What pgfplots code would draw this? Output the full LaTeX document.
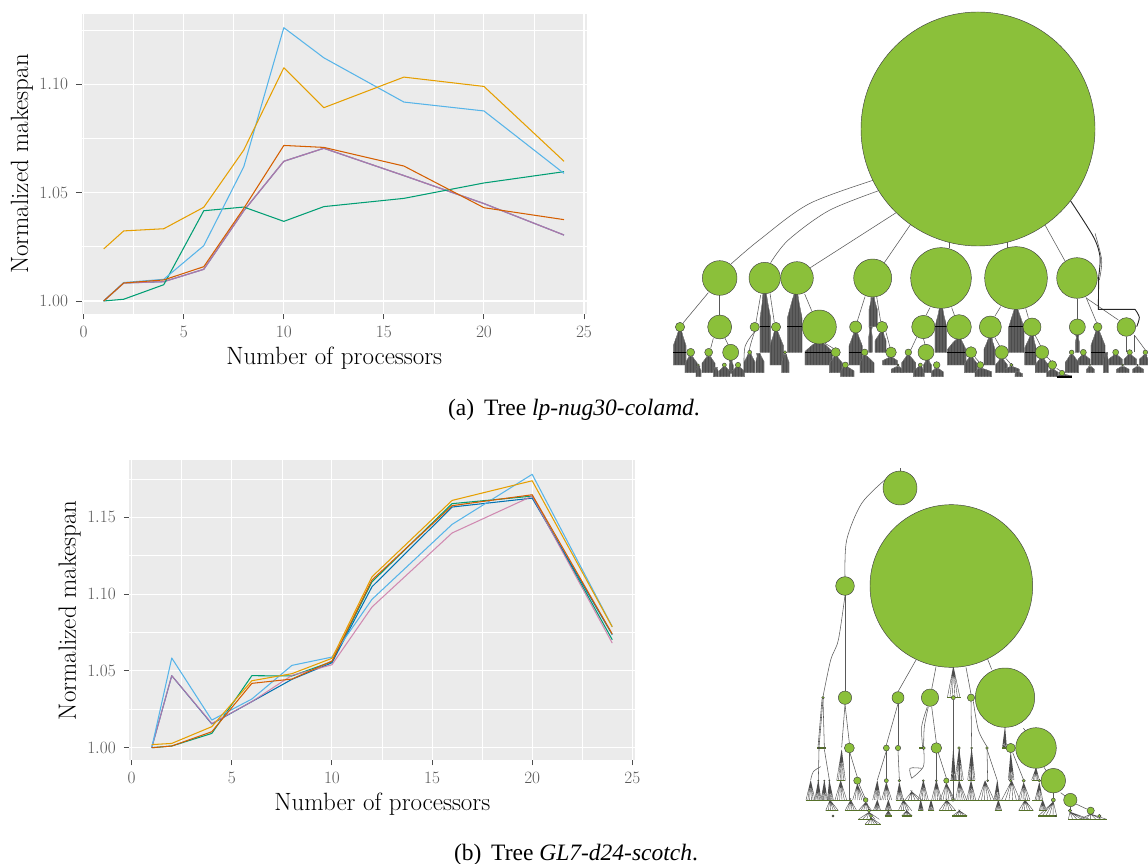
\documentclass[border=0pt]{standalone}
\usepackage{fontspec}
\usepackage{pgfplots}
\usetikzlibrary{patterns}
\pgfplotsset{compat=1.18}
\newfontfamily\capfont{Liberation Serif}
\definecolor{cY}{HTML}{E69F00}
\definecolor{cS}{HTML}{56B4E9}
\definecolor{cG}{HTML}{009E73}
\definecolor{cB}{HTML}{0072B2}
\definecolor{cV}{HTML}{D55E00}
\definecolor{cP}{HTML}{CC79A7}
\definecolor{panel}{HTML}{EBEBEB}
\definecolor{leafgreen}{HTML}{8BC03A}
\definecolor{fancol}{HTML}{5E5E5E}
\definecolor{rowcol}{HTML}{56702A}
\pgfplotsset{
  ggp/.style={
    scale only axis,
    axis background/.style={fill=panel},
    axis line style={draw=none},
    tick align=outside,
    major tick length=5.5pt,
    minor tick length=0pt,
    tick style={color=black!70,line width=.9pt},
    xtick pos=bottom, ytick pos=left,
    grid=both,
    major grid style={white,line width=1.1pt},
    minor grid style={white,line width=.6pt},
    xtick={0,5,10,15,20,25},
    minor xtick={2.5,7.5,12.5,17.5,22.5},
    tick label style={font=\fontsize{18}{20}\selectfont,text=black!65},
    xticklabel style={yshift=-3pt},
    label style={font=\fontsize{25}{28}\selectfont},
    xlabel style={at={(axis description cs:0.5,-0.146)},anchor=center},
    ylabel style={at={(axis description cs:-0.118,0.5)},anchor=center},
    yticklabel style={xshift=-4.5pt,/pgf/number format/fixed,/pgf/number format/fixed zerofill,/pgf/number format/precision=2},
    scaled y ticks=false,
  },
  ser/.style={#1,line width=1.05pt,mark=none,line join=round},
  tree/.style={hide axis,scale only axis,clip=false,y dir=reverse},
}
% tree helpers, all coordinates
\newcommand\cn[3]{\addplot[only marks,mark=*,mark size={#3/3},mark options={fill=leafgreen,draw=black!75,line width=.45pt}] coordinates {(#1,#2)};}
\newcommand\ed[1]{\addplot[draw=black!65,line width=.55pt,mark=none] coordinates {#1};}
\newcommand\eds[1]{\addplot[draw=black!65,line width=.55pt,mark=none,smooth] coordinates {#1};}
\newcommand\edb[1]{\addplot[draw=black!85,line width=.9pt,mark=none,smooth] coordinates {#1};}
\newcommand\fan[5]{%
  \pgfmathsetmacro\sy{#2+0.42*(#5-#2)}%
  \pgfmathsetmacro\my{#2+0.15*(#5-#2)}%
  \pgfmathsetmacro\la{#1-5}\pgfmathsetmacro\ra{#1+5}%
  \pgfmathsetmacro\lm{#3+0.5*(#1-#3)}\pgfmathsetmacro\rm{#4-0.5*(#4-#1)}%
  \edef\tmp{\noexpand\addplot[fill=fancol,draw=black!55,line width=.25pt,mark=none,postaction={pattern=vertical lines,pattern color=black!70}] coordinates {(\la,#2) (\lm,\my) (#3,\sy) (#3,#5) (#4,#5) (#4,\sy) (\rm,\my) (\ra,#2)} -- cycle;}\tmp}
\newcommand\fb[5]{%
  \pgfmathsetmacro\xa{#3+0.2*(#4-#3)}\pgfmathsetmacro\xb{#3+0.4*(#4-#3)}%
  \pgfmathsetmacro\xc{#3+0.6*(#4-#3)}\pgfmathsetmacro\xd{#3+0.8*(#4-#3)}%
  \edef\tmp{\noexpand\addplot[draw=black!70,line width=.4pt,mark=none] coordinates {(#3,#5) (#1,#2) (\xa,#5) (#1,#2) (\xb,#5) (#1,#2) (\xc,#5) (#1,#2) (\xd,#5) (#1,#2) (#4,#5)};}\tmp}
\newcommand\rw[3]{\addplot[draw=rowcol,line width=1.5pt,mark=none] coordinates {(#1,#3) (#2,#3)};}
\newcommand\hl[3]{\addplot[draw=black,line width=.5pt,mark=none] coordinates {(#1,#3) (#2,#3)};}

\begin{document}
\begin{tikzpicture}[x=1pt,y=1pt]
\path[use as bounding box] (0,0) rectangle (1148,864);

%---------- chart (a)
\begin{axis}[ggp,at={(81.5pt,550pt)},anchor=south west,width=505.5pt,height=300pt,
  xmin=-0.11,xmax=25.15,ymin=0.994,ymax=1.1323,
  ytick={1,1.05,1.10},minor ytick={1.025,1.075,1.125},
  xlabel={Number of processors},ylabel={Normalized makespan}]
\addplot[ser=cB] coordinates {(1,1)(2,1.0083)(4,1.0089)(6,1.0146)(8,1.0416)(10,1.0644)(12,1.0704)(16,1.0578)(20,1.0449)(24,1.0304)};
\addplot[ser=cP,opacity=.85,line width=1.25pt] coordinates {(1,1)(2,1.0083)(4,1.0089)(6,1.0146)(8,1.0416)(10,1.0644)(12,1.0704)(16,1.0578)(20,1.0449)(24,1.0304)};
\addplot[ser=cG] coordinates {(1,1)(2,1.0008)(4,1.0075)(6,1.0416)(8,1.0433)(10,1.0367)(12,1.0435)(16,1.0473)(20,1.0544)(24,1.0596)};
\addplot[ser=cS] coordinates {(1,1)(2,1.0085)(4,1.010)(6,1.0255)(8,1.0619)(10,1.126)(12,1.1121)(16,1.0917)(20,1.0876)(24,1.0588)};
\addplot[ser=cV] coordinates {(1,1)(2,1.0083)(4,1.0097)(6,1.0158)(8,1.0427)(10,1.0717)(12,1.0708)(16,1.0622)(20,1.043)(24,1.0375)};
\addplot[ser=cY] coordinates {(1,1.024)(2,1.0323)(4,1.0333)(6,1.0432)(8,1.0696)(10,1.1075)(12,1.0891)(16,1.1032)(20,1.0989)(24,1.0644)};
\end{axis}

%---------- chart (b)
\begin{axis}[ggp,at={(129.3pt,104pt)},anchor=south west,width=506pt,height=299.5pt,
  xmin=-0.12,xmax=25.15,ymin=0.992,ymax=1.187,
  ytick={1,1.05,1.10,1.15},minor ytick={1.025,1.075,1.125,1.175},
  xlabel={Number of processors},ylabel={Normalized makespan}]
\addplot[ser=cG] coordinates {(1,1)(2,1.0011)(4,1.0093)(6,1.0469)(8,1.0467)(10,1.056)(12,1.108)(16,1.1589)(20,1.1638)(24,1.0703)};
\addplot[ser=cB] coordinates {(1,1)(2,1.0469)(4,1.0155)(6,1.03)(8,1.0445)(10,1.0553)(12,1.1048)(16,1.1567)(20,1.1625)(24,1.0736)};
\addplot[ser=cP,opacity=.85] coordinates {(1,1)(2,1.0469)(4,1.0158)(6,1.03)(8,1.0471)(10,1.054)(12,1.0916)(16,1.1398)(20,1.1638)(24,1.0681)};
\addplot[ser=cS] coordinates {(1,1)(2,1.0584)(4,1.018)(6,1.0317)(8,1.0536)(10,1.059)(12,1.0966)(16,1.1454)(20,1.178)(24,1.0788)};
\addplot[ser=cV] coordinates {(1,1)(2,1.0011)(4,1.0104)(6,1.0419)(8,1.0447)(10,1.0564)(12,1.1092)(16,1.1576)(20,1.1647)(24,1.074)};
\addplot[ser=cY] coordinates {(1,1.002)(2,1.0028)(4,1.0137)(6,1.0436)(8,1.0482)(10,1.0582)(12,1.1113)(16,1.161)(20,1.1738)(24,1.0786)};
\end{axis}

%---------- tree (a)
\begin{axis}[tree,at={(670pt,474pt)},anchor=south west,width=478pt,height=150pt,
  xmin=0,xmax=1434,ymin=0,ymax=450]
% edges from the root and upper levels
\eds{(183,72)(268,0)(420,-110)(640,-189)}
\eds{(302,68)(355,0)(480,-90)(660,-160)}
\ed{(421,83)(705,-99)}
\ed{(643,68)(735,-66)}
\ed{(838,25)(838,5)}
\ed{(1012,25)(1012,5)}
\ed{(1185,63)(1125,-45)}
\ed{(115,158)(40,248)}\ed{(149,166)(149,225)}\ed{(130,295)(122,325)}\ed{(165,295)(175,315)}
\ed{(272,165)(258,247)}\ed{(300,160)(313,247)}\ed{(404,162)(425,212)}
\ed{(585,170)(562,243)}\ed{(620,170)(632,245)}
\ed{(780,203)(768,226)}\ed{(845,203)(853,225)}
\ed{(992,200)(975,228)}\ed{(1067,205)(1075,233)}
\ed{(1222,176)(1222,237)}\ed{(1248,172)(1280,248)}\ed{(1250,175)(1345,240)}
\ed{(740,292)(722,330)}\ed{(760,295)(765,313)}
\ed{(975,293)(990,320)}\ed{(1095,285)(1112,318)}\ed{(1130,350)(1145,365)}\ed{(1160,385)(1172,393)}
\ed{(915,352)(928,367)}\ed{(1007,355)(1022,372)}
\ed{(648,277)(660,322)}\ed{(465,310)(490,325)}
\edb{(1200,-120)(1270,-10)(1290,50)(1286,110)}
\addplot[draw=black!85,line width=.9pt,mark=none] coordinates {(1286,110)(1285,208)(1345,208)(1395,208)};
\edb{(1395,208)(1408,232)(1400,260)}
\eds{(1275,-20)(1295,60)(1288,120)}
\eds{(254,275)(225,320)(222,395)}
\eds{(254,275)(238,330)(236,395)}
\ed{(1368,290)(1368,335)}\ed{(1392,285)(1392,335)}\ed{(1395,288)(1426,330)}
% fans
\fan{30}{274}{10}{48}{375}\fan{62}{349}{45}{82}{398}\fan{116}{349}{96}{135}{398}
\fan{85}{378}{78}{93}{410}\fan{182}{360}{178}{190}{400}\fan{163}{381}{147}{180}{410}
\fan{204}{381}{186}{224}{410}\fan{137}{382}{130}{145}{410}
\fan{284}{160}{270}{302}{337}\fan{239}{343}{222}{255}{398}\fan{265}{340}{258}{282}{398}
\fan{318}{274}{300}{340}{375}\fan{345}{343}{335}{357}{398}
\fan{378}{160}{352}{396}{337}\fan{448}{305}{405}{487}{375}
\fan{497}{350}{478}{518}{398}\fan{526}{380}{512}{552}{410}
\fan{557}{277}{537}{577}{375}\fan{584}{347}{570}{612}{398}
\fan{608}{172}{597}{622}{260}\fan{602}{260}{596}{607}{337}
\fan{636}{277}{615}{648}{337}\fan{663}{352}{638}{682}{375}\fan{684}{380}{664}{697}{398}
\fan{715}{347}{695}{737}{398}\fan{751}{380}{730}{763}{410}\fan{772}{360}{760}{785}{398}
\fan{800}{385}{784}{820}{410}\fan{813}{205}{795}{830}{337}
\fan{867}{295}{832}{888}{375}\fan{903}{352}{883}{922}{398}\fan{931}{385}{915}{965}{410}
\fan{961}{293}{942}{975}{375}\fan{995}{357}{977}{1012}{398}\fan{1024}{380}{1005}{1048}{398}
\fan{1040}{395}{1035}{1058}{410}\fan{1038}{207}{1016}{1062}{337}
\fan{1086}{287}{1064}{1098}{375}\fan{1116}{355}{1096}{1134}{398}\fan{1147}{388}{1130}{1165}{410}
\fan{1176}{403}{1162}{1205}{413}\fan{1222}{285}{1216}{1228}{337}
\fan{1205}{345}{1186}{1226}{398}\fan{1240}{345}{1224}{1260}{375}\fan{1283}{273}{1263}{1305}{375}
\fan{1260}{380}{1250}{1273}{398}\fan{1308}{337}{1300}{1315}{398}\fan{1337}{345}{1316}{1357}{375}
\fan{1379}{345}{1362}{1400}{375}\fan{1358}{380}{1340}{1377}{398}\fan{1403}{380}{1388}{1420}{398}
\fan{1426}{345}{1408}{1434}{375}
\hl{10}{48}{337}\hl{270}{300}{260}\hl{352}{396}{260}\hl{405}{487}{337}\hl{537}{577}{337}
\hl{795}{830}{260}\hl{1016}{1062}{260}\hl{1263}{1305}{337}\hl{1064}{1098}{337}\hl{832}{888}{337}
\addplot[draw=black,line width=1.6pt,mark=none] coordinates {(1162,411)(1205,411)};
% nodes
\cn{924}{-333}{351}
\cn{149}{114}{52}\cn{284}{114}{47}\cn{381}{114}{49}\cn{608}{114}{57}\cn{813}{114}{91}\cn{1038}{114}{94}\cn{1221}{114}{61}
\cn{30}{261}{14}\cn{149}{261}{36}\cn{254}{261}{14}\cn{318}{261}{14}\cn{448}{261}{51}\cn{557}{261}{18}\cn{636}{261}{17}
\cn{760}{261}{35}\cn{867}{261}{37}\cn{961}{261}{33}\cn{1086}{261}{27}\cn{1222}{261}{24}\cn{1283}{261}{13}\cn{1369}{261}{28}
\cn{62}{337}{12}\cn{116}{337}{12}\cn{182}{337}{24}\cn{239}{337}{6}\cn{345}{337}{5}\cn{497}{337}{14}\cn{584}{337}{10}
\cn{663}{337}{16}\cn{715}{337}{10}\cn{768}{337}{24}\cn{903}{337}{17}\cn{995}{337}{20}\cn{1116}{337}{20}
\cn{1205}{337}{7}\cn{1240}{337}{9}\cn{1337}{337}{9}\cn{1379}{337}{8}\cn{1426}{337}{7}
\cn{85}{375}{3}\cn{163}{375}{6}\cn{204}{375}{8}\cn{526}{375}{9}\cn{684}{375}{3}\cn{751}{375}{6}\cn{800}{375}{10}
\cn{931}{375}{10}\cn{1024}{375}{5}\cn{1147}{375}{13}\cn{1260}{375}{2}\cn{1358}{375}{3}\cn{1403}{375}{2}\cn{1176}{399}{8}
\end{axis}

%---------- tree (b)
\begin{axis}[tree,at={(790pt,24pt)},anchor=south west,width=330pt,height=180pt,
  xmin=0,xmax=990,ymin=0,ymax=540]
\ed{(330,-575)(330,-565)}
\eds{(290,-545)(215,-470)(170,-360)(165,-250)}
\ed{(165,-194)(165,93)}
\eds{(165,-194)(145,-60)(122,0)(99,110)}
\ed{(378,0)(324,95)}\ed{(438,20)(425,88)}\ed{(528,22)(543,102)}\ed{(590,-10)(605,28)}
\ed{(165,133)(155,262)}\ed{(165,133)(178,249)}
\ed{(99,118)(87,262)}\ed{(99,118)(103,262)}\ed{(96,118)(84,262)}
\ed{(87,268)(85,360)}\ed{(103,268)(118,360)}\eds{(92,320)(70,335)(62,360)}
\ed{(178,279)(178,420)}\ed{(180,279)(202,352)}\ed{(207,372)(225,414)}\ed{(230,427)(237,448)}
\ed{(324,131)(289,255)}\ed{(324,131)(324,256)}\ed{(289,273)(262,360)}\ed{(289,273)(289,356)}\ed{(324,272)(328,358)}
\eds{(412,140)(395,200)(398,262)}\ed{(425,140)(439,248)}\eds{(415,140)(403,200)(401,259)}
\eds{(401,268)(400,320)(365,355)}\eds{(395,325)(360,325)(365,355)}
\ed{(439,280)(439,359)}\ed{(445,279)(469,354)}
\ed{(490,120)(490,420)}\ed{(543,124)(545,260)}\eds{(550,124)(565,210)(591,260)}
\ed{(591,268)(622,362)}\ed{(591,268)(593,360)}\ed{(668,278)(700,358)}
\ed{(700,205)(718,225)}\ed{(762,322)(770,335)}\ed{(812,398)(825,408)}\ed{(858,432)(890,447)}
\ed{(790,398)(790,414)}\ed{(840,440)(840,447)}\ed{(469,370)(490,418)}
\ed{(545,268)(545,360)}\ed{(507,268)(507,360)}
% fans
\fb{490}{20}{472}{510}{113}
\fb{645}{202}{637}{650}{264}
\fb{738}{323}{725}{748}{360}
\fb{155}{270}{140}{166}{362}\fb{507}{268}{495}{520}{360}\fb{545}{268}{533}{555}{360}\fb{490}{268}{483}{497}{360}
\fb{662}{278}{655}{672}{360}
\fb{62}{362}{48}{75}{420}\fb{85}{362}{74}{93}{420}\fb{103}{362}{93}{112}{420}\fb{118}{362}{112}{130}{420}
\fb{152}{362}{135}{170}{420}\fb{202}{372}{188}{222}{420}\fb{262}{362}{248}{272}{420}
\fb{289}{368}{275}{305}{420}\fb{328}{368}{318}{340}{420}\fb{365}{395}{345}{395}{420}\fb{400}{362}{385}{415}{420}
\fb{439}{362}{425}{455}{420}\fb{469}{370}{450}{495}{420}\fb{507}{362}{497}{530}{420}\fb{543}{362}{530}{557}{420}
\fb{585}{362}{565}{612}{420}\fb{622}{362}{612}{630}{420}\fb{665}{362}{635}{690}{420}\fb{701}{368}{685}{720}{420}\fb{748}{368}{735}{758}{420}
\fb{120}{420}{107}{145}{452}\fb{182}{420}{165}{200}{452}\fb{227}{427}{205}{245}{452}\fb{262}{420}{250}{272}{452}
\fb{295}{420}{285}{305}{452}\fb{340}{420}{325}{365}{452}\fb{392}{420}{385}{400}{452}\fb{423}{420}{415}{432}{452}
\fb{470}{420}{447}{497}{452}\fb{625}{420}{615}{635}{452}\fb{705}{420}{686}{730}{452}\fb{758}{420}{747}{770}{452}
\fb{237}{457}{205}{268}{478}\fb{243}{473}{225}{272}{493}\fb{295}{452}{285}{305}{468}\fb{350}{452}{335}{367}{468}
\fb{508}{452}{487}{532}{468}\fb{790}{425}{745}{800}{468}\fb{840}{456}{835}{900}{478}\fb{902}{462}{870}{950}{478}
% rows of leaves
\rw{47}{185}{421}\rw{318}{720}{421}\rw{725}{760}{421}
\rw{107}{145}{452}\rw{165}{345}{452}\rw{345}{365}{468}\rw{385}{400}{452}\rw{415}{432}{452}\rw{447}{497}{452}
\rw{615}{635}{452}\rw{686}{730}{452}\rw{747}{770}{452}\rw{285}{305}{468}\rw{335}{367}{468}\rw{487}{532}{468}
\rw{745}{800}{468}\rw{835}{950}{478}\rw{205}{245}{478}\rw{225}{272}{493}
\rw{81}{108}{264}\rw{140}{165}{362}\rw{472}{512}{113}\rw{388}{405}{264}
\rw{480}{520}{362}\rw{533}{555}{362}\rw{636}{670}{264}\rw{725}{750}{362}
% nodes
\cn{330}{-516}{51}\cn{484}{-222}{244}\cn{165}{-222}{28}
\cn{99}{113}{4}\cn{165}{113}{20}\cn{324}{113}{18}\cn{420}{113}{26}\cn{490}{113}{6}\cn{543}{113}{11}\cn{645}{113}{89}
\cn{87}{264}{3}\cn{103}{264}{3}\cn{178}{264}{15}\cn{289}{264}{9}\cn{324}{264}{8}\cn{401}{264}{5}\cn{439}{264}{16}
\cn{507}{264}{4}\cn{545}{264}{3}\cn{591}{264}{4}\cn{662}{264}{14}\cn{738}{264}{61}
\cn{202}{362}{11}\cn{289}{362}{6}\cn{328}{362}{4}\cn{469}{362}{8}\cn{400}{362}{3}\cn{439}{362}{3}\cn{593}{362}{3}
\cn{662}{362}{4}\cn{701}{362}{5}\cn{748}{362}{4}\cn{790}{362}{37}\cn{85}{362}{2}\cn{103}{362}{2}\cn{118}{362}{2}
\cn{227}{420}{7}\cn{790}{420}{6}\cn{841}{420}{20}\cn{489}{420}{4}
\cn{237}{452}{5}\cn{840}{452}{5}\cn{902}{452}{11}\cn{243}{468}{5}\cn{928}{468}{5}\cn{796}{468}{2}\cn{129}{468}{3}
\end{axis}

%---------- captions
\node[anchor=base,font=\capfont\fontsize{23.5}{26}\selectfont] at (574,448.5) {(a)\, Tree \textit{lp-nug30-colamd}.};
\node[anchor=base,font=\capfont\fontsize{23.5}{26}\selectfont] at (576,3) {(b)\, Tree \textit{GL7-d24-scotch}.};
\end{tikzpicture}
\end{document}
